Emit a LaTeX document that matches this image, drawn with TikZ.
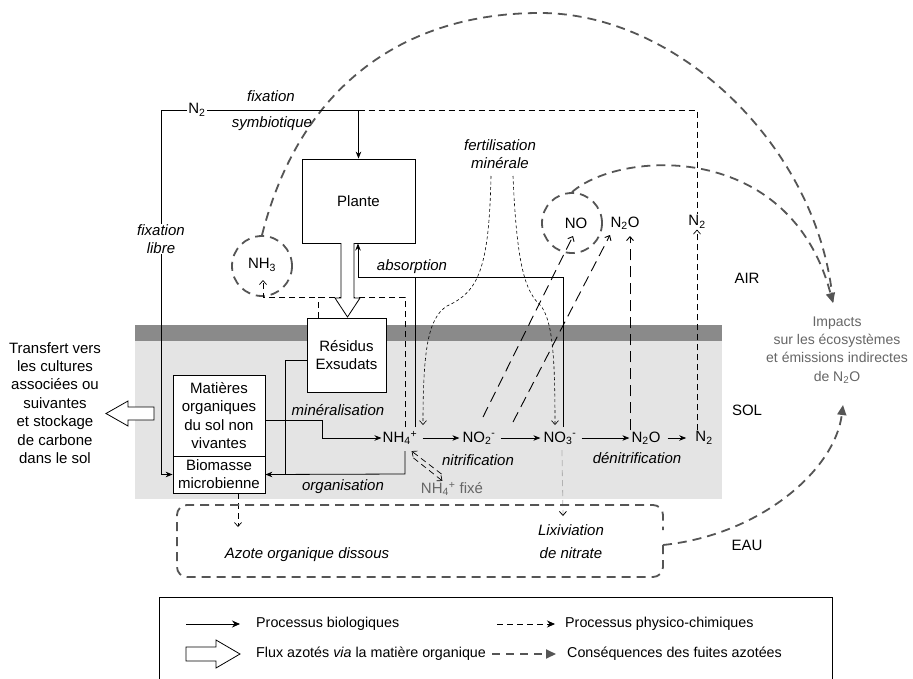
\documentclass[tikz,border=0pt]{standalone}
\usepackage{fontspec}
\setmainfont{Liberation Sans}
\usetikzlibrary{arrows.meta,calc}
\definecolor{leakc}{HTML}{555555}
\definecolor{soilc}{HTML}{E4E4E4}
\definecolor{bandc}{HTML}{8A8A8A}
\definecolor{txtg}{HTML}{666666}
\newcommand{\ssub}[1]{\textsubscript{#1}}
\tikzset{
 box/.style={draw, line width=0.8pt, fill=white, inner sep=0pt, align=center},
 bio/.style={line width=0.8pt, -{Stealth[length=7pt,width=5.5pt]}},
 bioline/.style={line width=0.8pt},
 phys/.style={line width=0.7pt, dash pattern=on 6pt off 4pt},
 physarr/.style={phys, -{Straight Barb[length=4pt,width=7pt]}},
 longd/.style={line width=0.9pt, dash pattern=on 11pt off 6pt, -{Straight Barb[length=4pt,width=7pt]}},
 fine/.style={line width=0.6pt, dash pattern=on 3pt off 2.5pt, -{Straight Barb[length=4pt,width=7pt]}},
 leak/.style={draw=leakc, line width=1.8pt, dash pattern=on 9pt off 6pt},
 leakarr/.style={leak, -{Triangle[length=10pt,width=9pt]}},
 lbl/.style={font=\fontsize{15}{18}\selectfont\itshape},
 hollow/.style={draw, line width=0.8pt, fill=white, line join=miter},
 legtxt/.style={anchor=west, font=\fontsize{14.3}{17}\selectfont},
}
\begin{document}
\begin{tikzpicture}[x=1pt,y=-1pt, every node/.style={font=\fontsize{15}{18}\selectfont, inner sep=1pt}]
\useasboundingbox (0,0) rectangle (913,678);
\fill[white] (0,0) rectangle (913,678);
% soil and band
\fill[soilc] (135,341) rectangle (722,499);
\fill[bandc] (135,325) rectangle (722,341);

% ---- big leak arcs
\node[circle, leak, minimum size=60pt, inner sep=0pt] (nh3c) at (262,266) {};
\node[circle, leak, minimum size=60pt, inner sep=0pt] (noc) at (572,223) {};
\coordinate (imptop) at (833,303);
\draw[leak] (nh3c.north) .. controls (300,85) and (405,13) .. (540,13) .. controls (680,13) and (820,150) .. (imptop);
\draw[leakarr] (noc.north) .. controls (620,150) and (790,140) .. (imptop);

% ---- boxes
\node[box, minimum width=113pt, minimum height=84pt] (plante) at (358.5,201) {Plante};
\node[box, minimum width=79pt, minimum height=74pt] (res) at (346.5,355) {Résidus\\Exsudats};
\node[box, minimum width=92pt, minimum height=81pt, font=\fontsize{15}{18.5}\selectfont] (mat) at (219,415.5) {Matières\\organiques\\du sol non\\vivantes};
\node[box, minimum width=92pt, minimum height=37pt, font=\fontsize{15}{18}\selectfont] (biom) at (219,474.5) {Biomasse\\microbienne};

% ---- air species
\node (n2a) at (197,110) {N\ssub{2}};
\node (nh3) at (262,265) {NH\ssub{3}};
\node (no) at (576,223) {NO};
\node (n2oa) at (625,223) {N\ssub{2}O};
\node (n2b) at (697,222) {N\ssub{2}};

% ---- soil species
\node (nh4) at (400,438) {NH\ssub{4}\textsuperscript{+}};
\node (no2) at (479,438) {NO\ssub{2}\textsuperscript{-}};
\node (no3) at (560,438) {NO\ssub{3}\textsuperscript{-}};
\node (n2os) at (646,438) {N\ssub{2}O};
\node (n2s) at (704,438) {N\ssub{2}};
\node[text=txtg] (nh4f) at (452,489) {NH\ssub{4}\textsuperscript{+} fixé};

% ---- labels
\node[lbl] (fixs1) at (271,96) {fixation};
\node[lbl] (fixs2) at (272,124) {symbiotique};
\node[lbl, align=center, font=\fontsize{15}{17.5}\selectfont\itshape] (fl) at (161,239) {fixation\\libre};
\node[lbl] (fert1) at (500,145) {fertilisation};
\node[lbl] (fert2) at (500,163) {minérale};
\node[lbl] (absl) at (412,267) {absorption};
\node[lbl] (minl) at (338,410) {minéralisation};
\node[lbl] (orgl) at (343,487) {organisation};
\node[lbl] (nitl) at (478,460) {nitrification};
\node[lbl] (denl) at (637,458) {dénitrification};
\node[lbl] (lix1) at (571,530) {Lixiviation};
\node[lbl] (lix2) at (571,553) {de nitrate};
\node[lbl] (aod) at (307,555) {Azote organique dissous};
\node (air) at (747,278) {AIR};
\node (sol) at (747,410) {SOL};
\node (eau) at (747,545) {EAU};
\node[text=txtg, align=center, font=\fontsize{14}{18.3}\selectfont] (imp) at (837,350) {Impacts\\sur les écosystèmes\\et émissions indirectes\\de N\ssub{2}O};
\node[align=center, font=\fontsize{15}{18.4}\selectfont] (transf) at (55,403) {Transfert vers\\les cultures\\associées ou\\suivantes\\et stockage\\de carbone\\dans le sol};

% ---- fixation
\coordinate (fs) at (358.5,110);
\draw[bioline] (n2a.west) -| (fl.north);
\draw[bio] (fl.south) |- (biom.west);
\draw[bio] (n2a.east) -- (fs) -- (plante.north);
\draw[phys] (fs) -- (697,110) -- (n2b.north);

% ---- volatilisation NH3
\coordinate (vtop) at (405,297);
\draw[physarr] (405,427) -- (vtop) -- (263,297) -- (263,280);
\draw[phys] (318,318) -- (318,297);

% ---- plant -> residues block arrow
\draw[hollow] (341,243) -- (341,298) -- (335,298) -- (347.5,317) -- (360,298) -- (354,298) -- (354,243);

% ---- absorption
\draw[bio] (563,427) -- (563,277) -- (358,277) -- (358,243.5);
\draw[bioline] (415,427) -- (415,277);

% ---- mineralisation / organisation
\draw[bio] (265,420) -- (322,420) -- (322,438) -- (nh4.west);
\draw[bio] (405,451) -- (405,474) -- (biom.east);
\draw[bioline] (res.west |- 0,360) -- (285,360) -- (285,474);

% ---- soil chain
\draw[bio] (nh4.east) ++(4,0) -- ($(no2.west)+(-2,0)$);
\draw[bio] (no2.east) ++(4,0) -- ($(no3.west)+(-2,0)$);
\draw[bio] (no3.east) ++(4,0) -- ($(n2os.west)+(-1,0)$);
\draw[bio] (n2os.east) ++(6,0) -- ($(n2s.west)+(-8,0)$);

% ---- NH4 fixe exchange
\draw[physarr] (441.6,474.1) -- (411.6,451.1);
\draw[physarr] (413.4,457.9) -- (442.4,480.9);

% ---- fertilisation
\draw[fine] (491,176) .. controls (489,270) and (478,292) .. (447,306) .. controls (428,318) and (423,350) .. (423,425);
\draw[fine] (513,176) .. controls (517,270) and (526,292) .. (541,306) .. controls (553,322) and (555,360) .. (555,425);

% ---- gaseous emissions
\draw[longd] (483,417) -- (573,236);
\draw[longd] (513,422) -- (610,235);
\draw[longd] (n2os.north -| 630,0) -- (630,236);
\draw[physarr] (n2s.north -| n2b) -- (n2b.south);

% ---- leaching
\draw[draw=gray!60, line width=0.8pt, dash pattern=on 6pt off 4pt, -{Straight Barb[length=4pt,width=7pt,black]}] (562,450) -- (563,516);
\draw[physarr] (biom.south -| 238,0) -- (238,527);

% ---- water box and impacts
\draw[leak, rounded corners=10pt] (663,545) -- (663,577) -- (177,577) -- (177,505) -- (663,505) -- (663,530);
\draw[leakarr] (663,545) .. controls (760,535) and (835,470) .. (843,405);

% ---- export arrow
\draw[hollow] (154,407) -- (128,407) -- (128,401) -- (106,413.5) -- (128,426) -- (128,420) -- (154,420) -- cycle;

% ---- legend
\draw[line width=0.8pt] (159,680) -- (159,597) -- (832,597) -- (832,680);
\coordinate (l1a) at (186,624); \coordinate (l1b) at (240,624);
\draw[line width=0.8pt, -{Stealth[length=8pt,width=7pt]}] (l1a) -- (l1b);
\node[legtxt] (lg1) at (255,624) {Processus biologiques};
\coordinate (l2a) at (497,624); \coordinate (l2b) at (555,624);
\draw[line width=0.8pt, dash pattern=on 6pt off 4pt, -{Stealth[length=8pt,width=7pt]}] (l2a) -- (l2b);
\node[legtxt] (lg2) at (564,624) {Processus physico-chimiques};
\draw[hollow] (186,647) -- (216,647) -- (216,640) -- (240,654) -- (216,668) -- (216,661) -- (186,661) -- cycle;
\node[legtxt] (lg3) at (255,654) {Flux azotés \textit{via} la matière organique};
\coordinate (l4a) at (492,654); \coordinate (l4b) at (556,654);
\draw[leakarr, line width=1.8pt, dash pattern=on 8pt off 6pt] (l4a) -- (l4b);
\node[legtxt] (lg4) at (566,654) {Conséquences des fuites azotées};
\end{tikzpicture}
\end{document}
